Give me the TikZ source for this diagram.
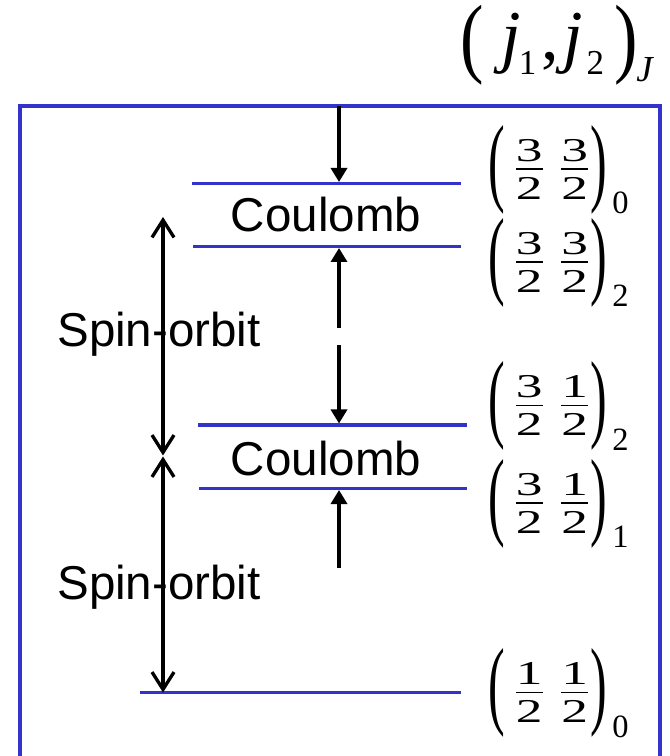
\documentclass[tikz,border=0pt]{standalone}
\usepackage{amsmath}
\usepackage{fontspec}
\usepackage{graphicx}
\setsansfont{Liberation Sans}
\newfontfamily\tms{Liberation Serif}
\usetikzlibrary{arrows.meta}
\definecolor{lvlblue}{RGB}{51,51,204}
\newcommand{\dg}[1]{\scalebox{1.6}[1]{\fontsize{10}{10}\selectfont\tms #1}}
\newcommand{\fr}[2]{\genfrac{}{}{0.35pt}{1}{\mbox{\rule[-1.75pt]{0pt}{1.75pt}\dg{#1}}}{\mbox{\rule{0pt}{8.5pt}\dg{#2}}}}
\newcommand{\Lpar}{\raisebox{-5.08pt}{\scalebox{1.25}[2.45]{\fontsize{12}{12}\selectfont\tms (}}}
\newcommand{\Rpar}{\raisebox{-5.08pt}{\scalebox{1.25}[2.45]{\fontsize{12}{12}\selectfont\tms )}}}
\newcommand{\lab}[5]{\Lpar\hspace{2pt}$\fr{#1}{#2}$\hspace{3.2pt}$\fr{#3}{#4}$\hspace{-0.5pt}\Rpar\hspace{1.6pt}\raisebox{-11.2pt}{\fontsize{9.75}{9.75}\selectfont\tms #5}}
\newcommand{\TL}{\raisebox{-2.1pt}{\scalebox{1.1}[1.38]{\fontsize{19.2}{19.2}\selectfont\tms (}}}
\newcommand{\TR}{\raisebox{-2.1pt}{\scalebox{1.1}[1.38]{\fontsize{19.2}{19.2}\selectfont\tms )}}}
\newcommand{\jj}{{\fontsize{21}{21}\selectfont\tms\itshape j}}
\newcommand{\sub}[1]{\raisebox{-4.5pt}{\fontsize{10.5}{10.5}\selectfont\tms #1}}
\begin{document}
\begin{tikzpicture}[x=0.3pt,y=-0.3pt,
  level/.style={draw=lvlblue,line width=1pt},
  frame/.style={draw=lvlblue,line width=1.2pt},
  farrow/.style={draw=black,line width=1pt,-{Triangle[length=4.2pt,width=4.8pt]}},
  barb/.style={draw=black,line width=1pt,{Straight Barb[length=5.2pt,width=6.6pt]}-{Straight Barb[length=5.2pt,width=6.6pt]}},
  sans/.style={font=\fontsize{14.25}{16}\selectfont\sffamily,inner sep=0pt},
  eq/.style={font=\fontsize{9}{10}\selectfont\tms,inner sep=0pt,anchor=base west}]
\useasboundingbox (0,0) rectangle (669,756);
\clip (0,0) rectangle (669,756);
% frame
\draw[frame] (20,106) rectangle (660,800);
% title
\node[inner sep=0pt,anchor=base west] (title) at (460,60)
  {\TL\hspace{5.2pt}\jj\hspace{-0.6pt}\sub{1}\hspace{1.5pt}{\fontsize{21}{21}\selectfont\tms ,}\hspace{1.5pt}\jj\hspace{1pt}\sub{2}\hspace{3.2pt}\TR\hspace{-0.6pt}\raisebox{-6.6pt}{\fontsize{11}{11}\selectfont\tms\itshape J}};
% level lines
\coordinate (L1a) at (192,183.5); \coordinate (L1b) at (461,183.5);
\coordinate (L2a) at (193,246.5); \coordinate (L2b) at (461,246.5);
\coordinate (L3a) at (198,425);   \coordinate (L3b) at (467,425);
\coordinate (L4a) at (199,488.5); \coordinate (L4b) at (467,488.5);
\coordinate (L5a) at (140,692.5); \coordinate (L5b) at (461,692.5);
\draw[level] (L1a) -- (L1b);
\draw[level] (L2a) -- (L2b);
\draw[level] (L3a) -- (L3b);
\draw[level] (L4a) -- (L4b);
\draw[level] (L5a) -- (L5b);
% level labels
\node[eq] (s1) at (488,176.5) {\lab{3}{2}{3}{2}{0}};
\node[eq] (s2) at (488,269.5) {\lab{3}{2}{3}{2}{2}};
\node[eq] (s3) at (488,413)   {\lab{3}{2}{1}{2}{2}};
\node[eq] (s4) at (488,510.5) {\lab{3}{2}{1}{2}{1}};
\node[eq] (s5) at (488,700)   {\lab{1}{2}{1}{2}{0}};
% text labels
\node[sans,anchor=base] (c1) at (326,232) {Coulomb};
\node[sans,anchor=base] (c2) at (326,475) {Coulomb};
\node[sans,anchor=base] (so1) at (159,347) {Spin-orbit};
\node[sans,anchor=base] (so2) at (159,599) {Spin-orbit};
% Coulomb / gap arrows
\coordinate (topin) at (339,106);
\coordinate (L1t) at (339,182);
\coordinate (g2s) at (339,328);
\coordinate (L2u) at (339,248);
\coordinate (g3s) at (339,345);
\coordinate (L3t) at (339,423.5);
\coordinate (g4s) at (339,568);
\coordinate (L4u) at (339,490);
\draw[farrow] (topin) -- (L1t);
\draw[farrow] (g2s) -- (L2u);
\draw[farrow] (g3s) -- (L3t);
\draw[farrow] (g4s) -- (L4u);
% spin-orbit arrows
\coordinate (so1t) at (163,217);
\coordinate (so1b) at (163,455.5);
\coordinate (so2t) at (163,456.5);
\coordinate (so2b) at (163,692.5);
\draw[barb] (so1t) -- (so1b);
\draw[barb] (so2t) -- (so2b);
\end{tikzpicture}
\end{document}
